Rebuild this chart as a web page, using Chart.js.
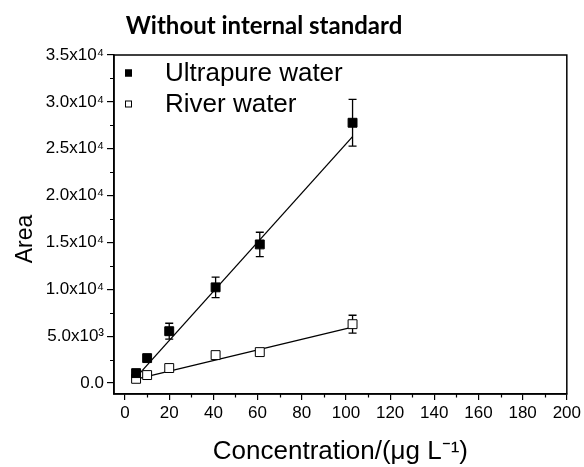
<!DOCTYPE html>
<html>
<head>
<meta charset="utf-8">
<script src="https://cdn.jsdelivr.net/npm/chart.js@4.4.1/dist/chart.umd.min.js"></script>
<style>
  html, body { margin: 0; padding: 0; background: #fff; overflow: hidden; }
  #wrap { position: relative; width: 584px; height: 467px; }
</style>
</head>
<body>
<div id="wrap"><canvas id="calib" width="584" height="467"></canvas></div>
<script>
// ---- data ----
const concentrations = [5, 10, 20, 41, 61, 103];
const ultrapureArea = [1060, 2660, 5530, 10210, 14790, 27770];
const ultrapureErr = [320, 380, 850, 1100, 1300, 2500];
const riverArea = [450, 850, 1600, 2980, 3300, 6280];
const riverErr = [250, 280, 200, 180, 200, 950];

// fitted calibration lines (end points)
const fitX = [5, 103];
const ultrapureFit = [610, 26290];
const riverFit = [420, 5960];

const xTicks = [0, 20, 40, 60, 80, 100, 120, 140, 160, 180, 200];
const xMinorTicks = [10, 30, 50, 70, 90, 110, 130, 150, 170, 190];
const yTicks = [0, 5000, 10000, 15000, 20000, 25000, 30000, 35000];
const yTickLabels = ['0.0', '5.0x10\u00B3', '1.0x10\u2074', '1.5x10\u2074', '2.0x10\u2074', '2.5x10\u2074', '3.0x10\u2074', '3.5x10\u2074'];
const yMinorTicks = [2500, 7500, 12500, 17500, 22500, 27500, 32500];

const seriesNames = ['Ultrapure water', 'River water'];

const FONT = "'Liberation Sans', Arial, sans-serif";

const toPoints = (xs, ys) => xs.map((x, i) => ({ x: x, y: ys[i] }));

// error bars, frame, minor ticks, title and legend
const decorPlugin = {
  id: 'decor',
  beforeDatasetsDraw(chart) {
    const ctx = chart.ctx;
    const xs = chart.scales.x, ys = chart.scales.y;
    ctx.save();
    ctx.strokeStyle = '#000';
    ctx.lineWidth = 1.3;
    chart.data.datasets.forEach((ds) => {
      if (!ds.errors) return;
      ds.data.forEach((p, i) => {
        const px = xs.getPixelForValue(p.x);
        const top = ys.getPixelForValue(p.y + ds.errors[i]);
        const bot = ys.getPixelForValue(p.y - ds.errors[i]);
        ctx.beginPath();
        ctx.moveTo(px, top); ctx.lineTo(px, bot);
        ctx.moveTo(px - 4, top); ctx.lineTo(px + 4, top);
        ctx.moveTo(px - 4, bot); ctx.lineTo(px + 4, bot);
        ctx.stroke();
      });
    });
    ctx.restore();
  },
  afterDraw(chart) {
    const ctx = chart.ctx;
    const a = chart.chartArea;
    const xs = chart.scales.x, ys = chart.scales.y;
    ctx.save();
    ctx.strokeStyle = '#000';
    ctx.lineWidth = 1.5;
    ctx.strokeRect(a.left, a.top, a.right - a.left, a.bottom - a.top);

    // minor ticks
    ctx.lineWidth = 1.2;
    ctx.beginPath();
    xMinorTicks.forEach(v => {
      const px = Math.round(xs.getPixelForValue(v)) + 0.5;
      ctx.moveTo(px, a.bottom); ctx.lineTo(px, a.bottom + 3.5);
    });
    yMinorTicks.forEach(v => {
      const py = Math.round(ys.getPixelForValue(v)) + 0.5;
      ctx.moveTo(a.left, py); ctx.lineTo(a.left - 4, py);
    });
    ctx.stroke();

    // title
    ctx.fillStyle = '#000';
    ctx.textAlign = 'center';
    ctx.textBaseline = 'middle';
    ctx.font = "bold 24px Lato, 'Open Sans', sans-serif";
    ctx.fillText('Without internal standard', 264, 26);

    // y axis title
    ctx.save();
    ctx.translate(26, 239);
    ctx.rotate(-Math.PI / 2);
    ctx.font = '23px ' + FONT;
    ctx.fillText('Area', 0, 0);
    ctx.restore();

    // legend
    ctx.textAlign = 'left';
    ctx.font = '26px ' + FONT;
    const rows = [{ y: 73, fill: '#000' }, { y: 104, fill: '#fff' }];
    rows.forEach((r, i) => {
      ctx.fillStyle = r.fill;
      ctx.fillRect(125, r.y - 3.5, 7, 7);
      ctx.lineWidth = 1;
      ctx.strokeRect(125.5, r.y - 3, 6, 6);
      ctx.fillStyle = '#000';
      ctx.fillText(seriesNames[i], 165, r.y + 1);
    });
    ctx.restore();
  }
};

const ctx = document.getElementById('calib').getContext('2d');
new Chart(ctx, {
  type: 'scatter',
  data: {
    datasets: [
      {
        label: seriesNames[0],
        data: toPoints(concentrations, ultrapureArea),
        errors: ultrapureErr,
        pointStyle: 'rect',
        pointRadius: 6.3,
        backgroundColor: '#000',
        borderColor: '#000',
        borderWidth: 1
      },
      {
        label: seriesNames[1],
        data: toPoints(concentrations, riverArea),
        errors: riverErr,
        pointStyle: 'rect',
        pointRadius: 6.3,
        backgroundColor: '#fff',
        borderColor: '#000',
        borderWidth: 1
      },
      {
        type: 'line',
        label: 'fit1',
        data: toPoints(fitX, ultrapureFit),
        borderColor: '#000',
        borderWidth: 1.3,
        pointRadius: 0,
        fill: false
      },
      {
        type: 'line',
        label: 'fit2',
        data: toPoints(fitX, riverFit),
        borderColor: '#000',
        borderWidth: 1.3,
        pointRadius: 0,
        fill: false
      }
    ]
  },
  options: {
    responsive: false,
    animation: false,
    layout: { padding: { top: 55, right: 13, left: 0, bottom: 0 } },
    plugins: {
      legend: { display: false },
      tooltip: { enabled: false },
      title: { display: false }
    },
    scales: {
      x: {
        type: 'linear',
        min: -5,
        max: 200,
        afterBuildTicks: s => { s.ticks = xTicks.map(v => ({ value: v })); },
        afterFit: s => { s.height = 73; },
        ticks: {
          autoSkip: false,
          maxRotation: 0,
          padding: 3,
          color: '#000',
          font: { family: FONT, size: 17 }
        },
        grid: { drawOnChartArea: false, drawTicks: true, tickLength: 6, color: '#000', lineWidth: 1.2 },
        border: { display: true, color: '#000', width: 1.5 },
        title: {
          display: true,
          text: 'Concentration/(\u03BCg L\u207B\u00B9)',
          color: '#000',
          font: { family: FONT, size: 26 },
          padding: { top: 0, bottom: 0 }
        }
      },
      y: {
        type: 'linear',
        min: -1170,
        max: 35000,
        afterBuildTicks: s => { s.ticks = yTicks.map(v => ({ value: v })); },
        afterFit: s => { s.width = 114; },
        ticks: {
          autoSkip: false,
          padding: 3,
          color: '#000',
          font: { family: FONT, size: 17 },
          callback: (value) => {
            const i = yTicks.indexOf(value);
            return i >= 0 ? yTickLabels[i] : '';
          }
        },
        grid: { drawOnChartArea: false, drawTicks: true, tickLength: 7, color: '#000', lineWidth: 1.2 },
        border: { display: true, color: '#000', width: 1.5 }
      }
    }
  },
  plugins: [decorPlugin]
});
</script>
</body>
</html>
